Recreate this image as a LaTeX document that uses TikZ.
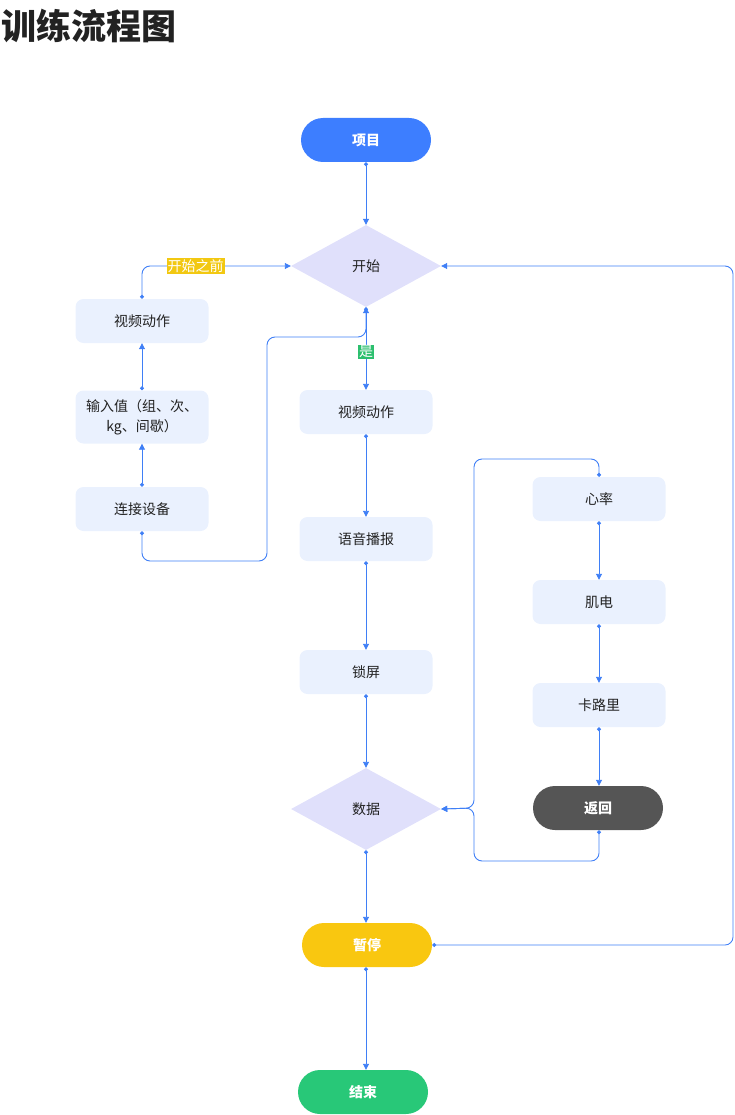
\documentclass[tikz,border=0pt]{standalone}
\usepackage{fontspec}
\setmainfont{Noto Sans CJK SC}
\usetikzlibrary{shapes.geometric,arrows.meta}
\definecolor{textdark}{HTML}{222222}
\definecolor{boxfill}{HTML}{EAF1FE}
\definecolor{decidefill}{HTML}{E0E0FB}
\definecolor{startblue}{HTML}{3D7EFF}
\definecolor{pauseyellow}{HTML}{F9C710}
\definecolor{endgreen}{HTML}{28C878}
\definecolor{backgray}{HTML}{555555}
\definecolor{linkblue}{HTML}{3F7FF6}
\definecolor{tagyellow}{HTML}{F2C811}
\definecolor{taggreen}{HTML}{2CBF6E}
\newcommand{\boxfont}{\fontsize{14pt}{20pt}\selectfont}
\newcommand{\titlefont}{\fontsize{35pt}{40pt}\selectfont\bfseries}

\begin{document}
\begin{tikzpicture}[x=1pt,y=-1pt,
	box/.style={rectangle, rounded corners=8pt, fill=boxfill, minimum width=133pt, minimum height=44pt, font=\boxfont, text=textdark},
	pill/.style={rectangle, rounded corners=22pt, minimum width=130pt, minimum height=44pt, font=\boxfont\bfseries, text=white},
	decide/.style={diamond, fill=decidefill, minimum width=150pt, minimum height=82pt, inner sep=0pt, font=\boxfont, text=textdark},
	link/.style={draw=linkblue, line width=0.9pt, rounded corners=8pt, {Circle[length=4pt]}-{Triangle[length=6pt,width=6pt]}},
	tag/.style={sharp corners, inner sep=1pt, font=\boxfont, text=white}]
	\useasboundingbox (0,0) rectangle (734,1115);

	\node[anchor=base west, inner sep=0pt, font=\titlefont, text=textdark] (title) at (1,40) {训练流程图};

	\node[pill, fill=startblue] (xm) at (366,140) {项目};
	\node[decide] (ks) at (366,266) {开始};
	\node[box] (spr) at (366,412) {视频动作};
	\node[box] (yy) at (366,539) {语音播报};
	\node[box] (sp) at (366,672) {锁屏};
	\node[decide] (sj) at (366,809) {数据};
	\node[pill, fill=pauseyellow] (zt) at (367,945) {暂停};
	\node[pill, fill=endgreen] (js) at (363,1092) {结束};

	\node[box] (spl) at (142,321) {视频动作};
	\node[box, minimum height=53pt, align=center] (sr) at (142,417) {输入值（组、次、\\kg、间歇）};
	\node[box] (lj) at (142,509) {连接设备};

	\node[box] (xl) at (599,499) {心率};
	\node[box] (jd) at (599,602) {肌电};
	\node[box] (kl) at (599,705) {卡路里};
	\node[pill, fill=backgray] (fh) at (598,808) {返回};

	\draw[link] (xm.south) -- (ks.north);
	\draw[link] (spl.north) |- node[pos=0.68, tag, fill=tagyellow] {开始之前} (ks.west);
	\draw[link] (sr.north) -- (spl.south);
	\draw[link] (lj.north) -- (sr.south);
	\draw[link] (lj.south) -- (142,561) -- (267,561) -- (267,337) -- (366,337) -- (ks.south);
	\draw[link] (ks.south) -- node[pos=0.54, tag, fill=taggreen] {是} (spr.north);
	\draw[link] (spr.south) -- (yy.north);
	\draw[link] (yy.south) -- (sp.north);
	\draw[link] (sp.south) -- (sj.north);
	\draw[link] (sj.south) -- (sj.south |- zt.north);
	\draw[link] (sj.south |- zt.south) -- (sj.south |- js.north);
	\draw[link] (zt.east) -- (733,945) -- (733,266) -- (ks.east);

	\draw[link] (xl.south) -- (jd.north);
	\draw[link] (jd.south) -- (kl.north);
	\draw[link] (kl.south) -- (kl.south |- fh.north);
	\draw[link] (xl.north) -- (599,459) -- (474,459) -- (474,808) -- (sj.east);
	\draw[link] (fh.south -| xl.south) -- (599,861) -- (474,861) -- (474,808) -- (sj.east);
\end{tikzpicture}
\end{document}
